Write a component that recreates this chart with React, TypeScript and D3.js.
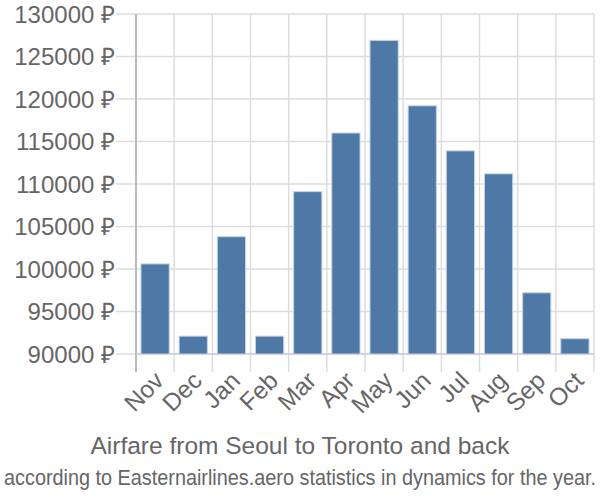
import React, { useLayoutEffect, useRef, useState } from "react";
import * as d3 from "d3";

const months = ["Nov", "Dec", "Jan", "Feb", "Mar", "Apr", "May", "Jun", "Jul", "Aug", "Sep", "Oct"];
const prices = [100600, 92100, 103800, 92100, 109100, 116000, 126900, 119200, 113900, 111200, 97200, 91800];
const yTicks = [90000, 95000, 100000, 105000, 110000, 115000, 120000, 125000, 130000];
const title = "Airfare from Seoul to Toronto and back";
const subtitle = "according to Easternairlines.aero statistics in dynamics for the year.";

export default function App() {
  const W = 600, H = 500;
  const left = 136, right = 594, top = 14, bottom = 354;
  const x = d3.scaleBand<string>().domain(months).range([left, right]).paddingInner(0.26).paddingOuter(0.13);
  const xb = d3.scaleBand<string>().domain(months).range([left, right]);
  const y = d3.scaleLinear().domain([90000, 130000]).range([bottom, top]);
  const font = "'Liberation Sans', Arial, sans-serif";
  const txt = "#666";
  const subRef = useRef<SVGTextElement>(null);
  const [subScale, setSubScale] = useState(0.85);
  useLayoutEffect(() => {
    if (subRef.current) {
      const w = subRef.current.getComputedTextLength();
      if (w > 0) setSubScale(592 / w);
    }
  }, []);
  return (
    <svg width={W} height={H} style={{ position: "absolute", left: 0, top: 0 }} fontFamily={font}>
      <rect width={W} height={H} fill="#fff" />
      {yTicks.map((t) => (
        <g key={t}>
          <line x1={116} x2={right} y1={y(t)} y2={y(t)} stroke="#ddd" strokeWidth={1.5} />
          <text x={115} y={y(t)} dy="0.36em" textAnchor="end" fontSize={24} fill={txt}>
            {d3.format("d")(t) + " ₽"}
          </text>
        </g>
      ))}
      {months.map((m) => (
        <line key={m} x1={xb(m)!} x2={xb(m)!} y1={top} y2={372} stroke="#ddd" strokeWidth={1.5} />
      ))}
      <line x1={right} x2={right} y1={top} y2={372} stroke="#ddd" strokeWidth={1.5} />
      <line x1={left} x2={left} y1={top} y2={372} stroke="#aaa" strokeWidth={1.5} />
      <line x1={left} x2={right} y1={bottom} y2={bottom} stroke="#ccc" strokeWidth={1.5} />
      {months.map((m, i) => (
        <rect
          key={m}
          x={x(m)}
          y={y(prices[i])}
          width={x.bandwidth()}
          height={bottom - y(prices[i])}
          fill="#4e79a7"
          stroke="#c5d3e6"
          strokeWidth={1}
        />
      ))}
      {months.map((m) => (
        <text
          key={m}
          transform={`translate(${xb(m)! + xb.bandwidth() / 2 - 2},${370}) rotate(-45)`}
          textAnchor="end"
          dy="0.7em"
          fontSize={24.5}
          fill={txt}
        >
          {m}
        </text>
      ))}
      <text x={300} y={454} textAnchor="middle" fontSize={24.5} fill={txt}>{title}</text>
      <text
        ref={subRef}
        transform={`translate(300,485) scale(${subScale},1)`}
        textAnchor="middle"
        fontSize={22}
        fill={txt}
      >
        {subtitle}
      </text>
    </svg>
  );
}
